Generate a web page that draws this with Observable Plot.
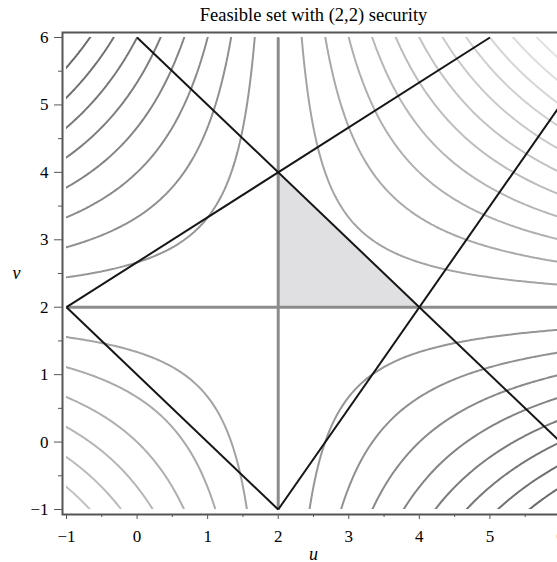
<!DOCTYPE html>
<html>
<head>
<meta charset="utf-8">
<script src="https://cdn.jsdelivr.net/npm/d3@7"></script>
<script src="https://cdn.jsdelivr.net/npm/@observablehq/plot@0.6"></script>
<style>
  html, body { margin: 0; padding: 0; background: #fff; overflow: hidden; }
  #chart svg { max-width: none; }
</style>
</head>
<body>
<div id="chart"></div>
<script>
// Axis ticks
const uTicks = [-1, 0, 1, 2, 3, 4, 5, 6];
const vTicks = [-1, 0, 1, 2, 3, 4, 5, 6];
const minorTicks = [-0.5, 0.5, 1.5, 2.5, 3.5, 4.5, 5.5];

// Contour levels of the payoff product (u-2)(v-2)
const levels = [-10.67, -9.33, -8, -6.67, -5.33, -4, -2.67, -1.33,
                1.33, 2.67, 4, 5.33, 6.67, 8, 9.33, 10.67, 12, 13.33, 14.67];

// Security point
const security = [{u: 2, v: 2}];

// Boundary lines of the bargaining region
const boundary = [
  {u1: 0, v1: 6, u2: 6, v2: 0},
  {u1: -1, v1: 2, u2: 5, v2: 6},
  {u1: -1, v1: 2, u2: 2, v2: -1},
  {u1: 2, v1: -1, u2: 6, v2: 5}
];

// Security lines u = 2 and v = 2
const securityLines = [
  {u1: 2, v1: -1, u2: 2, v2: 6},
  {u1: -1, v1: 2, u2: 6, v2: 2}
];

// Feasible set above the security point (upper edge u + v = 6)
const feasible = [{u: 2, v: 4}, {u: 4, v: 2}];

const fmt = d => d < 0 ? "\u2212" + (-d) : String(d);

const chart = Plot.plot({
  width: 560,
  height: 562,
  marginLeft: 66,
  marginRight: 0,
  marginTop: 37,
  marginBottom: 53,
  x: {domain: [-1, 6]},
  y: {domain: [-1, 6]},
  color: {type: "linear", domain: [-10.67, 14.67], range: ["#6a6a6a", "#e2e2e2"]},
  style: {fontFamily: "'Liberation Serif', 'Times New Roman', serif", fontSize: "17px", color: "#000", background: "#fff", overflow: "visible"},
  marks: [
    Plot.areaY(feasible, {x: "u", y1: security[0].v, y2: "v", fill: "#e0e0e3"}),
    Plot.contour({
      x1: -1.5, x2: 6.5, y1: -1.5, y2: 6.5,
      value: (u, v) => (u - security[0].u) * (v - security[0].v),
      thresholds: levels,
      stroke: "value",
      fill: "none",
      strokeWidth: 2,
      clip: true
    }),
    Plot.link(securityLines, {x1: "u1", y1: "v1", x2: "u2", y2: "v2", stroke: "#111", strokeWidth: 1.5}),
    Plot.link(securityLines, {x1: "u1", y1: "v1", x2: "u2", y2: "v2", stroke: "#8c8c8c", strokeWidth: 3}),
    Plot.link(boundary, {x1: "u1", y1: "v1", x2: "u2", y2: "v2", stroke: "#161616", strokeWidth: 2}),
    Plot.frame({stroke: "#555", strokeWidth: 2, insetTop: -5, insetBottom: -5, insetLeft: -4, insetRight: -4}),
    Plot.axisX(uTicks, {anchor: "bottom", dy: 5, tickSize: 5, tickPadding: 10, tickFormat: fmt, stroke: "#555", fill: "#000", fontSize: 17, label: null}),
    Plot.axisX(minorTicks, {anchor: "bottom", dy: 5, tickSize: 3, tickFormat: () => "", stroke: "#555", label: null}),
    Plot.axisY(vTicks, {anchor: "left", dx: -4, tickSize: 8, tickPadding: 6, tickFormat: fmt, stroke: "#555", fill: "#000", fontSize: 17, label: null}),
    Plot.axisY(minorTicks, {anchor: "left", dx: -4, tickSize: 4, tickFormat: () => "", stroke: "#555", label: null}),
    Plot.text(["Feasible set with (2,2) security"], {text: d => d, frameAnchor: "top", dy: -22, lineAnchor: "middle", fontSize: 18.5}),
    Plot.text(["u"], {text: d => d, frameAnchor: "bottom", dy: 45, lineAnchor: "middle", fontStyle: "italic", fontSize: 18}),
    Plot.text(["v"], {text: d => d, frameAnchor: "left", dx: -54, lineAnchor: "middle", fontStyle: "italic", fontSize: 18})
  ]
});
document.getElementById("chart").appendChild(chart);
</script>
</body>
</html>
